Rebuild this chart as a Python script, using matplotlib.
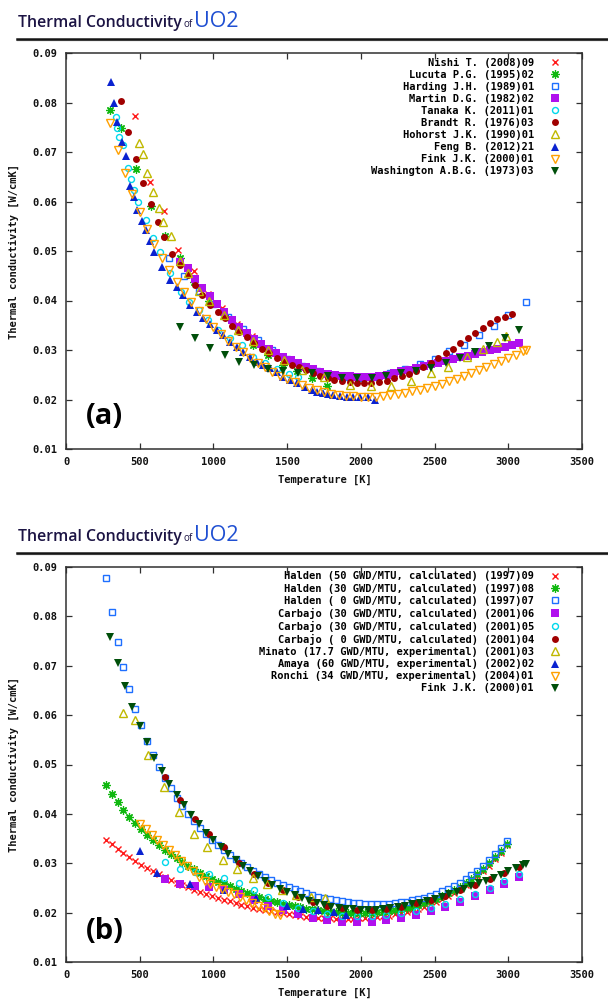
import matplotlib
matplotlib.use("Agg")
import matplotlib.pyplot as plt
from matplotlib.lines import Line2D
from matplotlib.ticker import FormatStrFormatter

# ------------------------------------------------------------------ data
X_TICKS = [0, 500, 1000, 1500, 2000, 2500, 3000, 3500]
Y_TICKS = [0.01, 0.02, 0.03, 0.04, 0.05, 0.06, 0.07, 0.08, 0.09]

# ---- panel (a)
labels_a = ["Nishi T. (2008)09", "Lucuta P.G. (1995)02", "Harding J.H. (1989)01",
            "Martin D.G. (1982)02", "Tanaka K. (2011)01", "Brandt R. (1976)03",
            "Hohorst J.K. (1990)01", "Feng B. (2012)21", "Fink J.K. (2000)01",
            "Washington A.B.G. (1973)03"]

nishi_T = [468, 570, 665, 760, 870, 960, 1060, 1160, 1260, 1360, 1460]
nishi_k = [0.0773, 0.0639, 0.0581, 0.0503, 0.0460, 0.0414, 0.0385, 0.0352, 0.0328, 0.0305, 0.0285]

lucuta_T = [300, 370, 475, 575, 670, 770, 870, 970, 1070, 1170, 1270, 1370, 1470, 1570, 1670, 1770]
lucuta_k = [0.0785, 0.0749, 0.0666, 0.0590, 0.0530, 0.0485, 0.0437, 0.0400, 0.0370, 0.0343,
            0.0310, 0.0290, 0.0270, 0.0258, 0.0243, 0.0227]

harding_T = [700, 800, 900, 1000, 1100, 1200, 1300, 1400, 1500, 1600, 1700, 1800, 1900,
             2000, 2100, 2200, 2300, 2400, 2500, 2600, 2700, 2800, 2900, 3000, 3120]
harding_k = [0.0486, 0.0450, 0.0420, 0.0392, 0.0366, 0.0343, 0.0320, 0.0300, 0.0282, 0.0268,
             0.0258, 0.0250, 0.0245, 0.0243, 0.0245, 0.0254, 0.0262, 0.0272, 0.0282, 0.0298,
             0.0310, 0.0330, 0.0349, 0.0371, 0.0397]

martin_T = [775, 825, 875, 925, 975, 1025, 1075, 1125, 1175, 1225, 1275, 1325, 1375, 1425,
            1475, 1525, 1575, 1625, 1675, 1725, 1775, 1825, 1875, 1925, 1975, 2025, 2075,
            2125, 2175, 2225, 2275, 2325, 2375, 2425, 2475, 2525, 2575, 2625, 2675, 2725,
            2775, 2825, 2875, 2925, 2975, 3025, 3075]
martin_k = [0.0478, 0.0465, 0.0444, 0.0426, 0.0410, 0.0392, 0.0376, 0.0361, 0.0347, 0.0334,
            0.0322, 0.0312, 0.0302, 0.0294, 0.0286, 0.0279, 0.0273, 0.0266, 0.0261, 0.0256,
            0.0252, 0.0250, 0.0248, 0.0247, 0.0246, 0.0246, 0.0246, 0.0248, 0.0250, 0.0253,
            0.0257, 0.0260, 0.0264, 0.0267, 0.0271, 0.0274, 0.0278, 0.0281, 0.0285, 0.0288,
            0.0292, 0.0296, 0.0299, 0.0302, 0.0306, 0.0310, 0.0314]

tanaka_T = [339, 348, 360, 387, 420, 441, 461, 488, 542, 590, 638, 705, 777, 834, 902, 965,
            1033, 1112, 1193, 1270, 1350, 1430, 1512, 1573]
tanaka_k = [0.0771, 0.0748, 0.0730, 0.0714, 0.0668, 0.0645, 0.0623, 0.0599, 0.0563, 0.0527,
            0.0498, 0.0456, 0.0418, 0.0397, 0.0381, 0.0361, 0.0340, 0.0324, 0.0310, 0.0286,
            0.0274, 0.0261, 0.0252, 0.0246]

brandt_T = [373, 422, 475, 522, 576, 624, 665, 720, 770, 827, 875, 923, 977, 1031, 1078,
            1126, 1173, 1227, 1275, 1329, 1377, 1431, 1478, 1532, 1580, 1628, 1675, 1723,
            1777, 1818, 1872, 1926, 1974, 2022, 2069, 2123, 2177, 2225, 2279, 2327, 2375,
            2422, 2475, 2524, 2578, 2625, 2673, 2727, 2775, 2829, 2876, 2924, 2978, 3026]
brandt_k = [0.0803, 0.0740, 0.0686, 0.0637, 0.0595, 0.0559, 0.0528, 0.0494, 0.0472, 0.0452,
            0.0431, 0.0411, 0.0391, 0.0377, 0.0365, 0.0349, 0.0336, 0.0326, 0.0314, 0.0302,
            0.0294, 0.0284, 0.0276, 0.0270, 0.0266, 0.0260, 0.0254, 0.0248, 0.0244, 0.0240,
            0.0238, 0.0236, 0.0234, 0.0234, 0.0234, 0.0236, 0.0238, 0.0244, 0.0248, 0.0252,
            0.0258, 0.0266, 0.0274, 0.0284, 0.0294, 0.0302, 0.0314, 0.0325, 0.0335, 0.0344,
            0.0354, 0.0363, 0.0367, 0.0372]

hohorst_T = [495, 522, 549, 590, 631, 658, 712, 770, 830, 900, 970, 1070, 1170, 1270, 1370,
             1480, 1600, 1750, 1927, 2069, 2205, 2340, 2475, 2591, 2720, 2829, 2924, 2985]
hohorst_k = [0.0718, 0.0696, 0.0658, 0.0619, 0.0587, 0.0559, 0.0530, 0.0480, 0.0455, 0.0420,
             0.0400, 0.0370, 0.0340, 0.0318, 0.0300, 0.0280, 0.0260, 0.0245, 0.0229, 0.0227,
             0.0227, 0.0237, 0.0253, 0.0266, 0.0286, 0.0302, 0.0316, 0.0328]

feng_T = [305, 326, 346, 380, 407, 434, 461, 482, 515, 542, 570, 597, 650, 705, 753, 794,
          841, 888, 929, 977, 1024, 1065, 1112, 1160, 1200, 1248, 1296, 1336, 1384, 1431,
          1472, 1520, 1567, 1620, 1669, 1705, 1743, 1777, 1811, 1860, 1905, 1950, 1994,
          2049, 2096]
feng_k = [0.0842, 0.0799, 0.0761, 0.0720, 0.0692, 0.0631, 0.0609, 0.0583, 0.0561, 0.0542,
          0.0520, 0.0498, 0.0468, 0.0441, 0.0427, 0.0411, 0.0391, 0.0377, 0.0365, 0.0353,
          0.0341, 0.0331, 0.0316, 0.0306, 0.0296, 0.0286, 0.0276, 0.0270, 0.0264, 0.0256,
          0.0245, 0.0240, 0.0233, 0.0226, 0.0219, 0.0216, 0.0213, 0.0211, 0.0209, 0.0207,
          0.0205, 0.0205, 0.0205, 0.0205, 0.0199]

fink_T = [300, 350, 400, 450, 500, 550, 600, 650, 700, 750, 800, 850, 900, 950, 1000, 1050,
          1100, 1150, 1200, 1250, 1300, 1350, 1400, 1450, 1500, 1550, 1600, 1650, 1700, 1750,
          1800, 1850, 1900, 1950, 2000, 2050, 2100, 2150, 2200, 2250, 2300, 2350, 2400, 2450,
          2500, 2550, 2600, 2650, 2700, 2750, 2800, 2850, 2900, 2950, 3000, 3050, 3100, 3120]
fink_k = [0.0759, 0.0705, 0.0658, 0.0616, 0.0578, 0.0545, 0.0514, 0.0486, 0.0461, 0.0438,
          0.0417, 0.0397, 0.0379, 0.0362, 0.0347, 0.0332, 0.0319, 0.0306, 0.0295, 0.0284,
          0.0274, 0.0265, 0.0256, 0.0248, 0.0241, 0.0235, 0.0229, 0.0224, 0.0219, 0.0216,
          0.0212, 0.0210, 0.0208, 0.0207, 0.0206, 0.0206, 0.0206, 0.0207, 0.0209, 0.0211,
          0.0214, 0.0217, 0.0220, 0.0224, 0.0228, 0.0232, 0.0237, 0.0242, 0.0248, 0.0253,
          0.0259, 0.0265, 0.0271, 0.0277, 0.0284, 0.0290, 0.0297, 0.0299]

washington_T = [773, 875, 977, 1078, 1173, 1275, 1370, 1472, 1574, 1669, 1777, 1872, 1974,
                2075, 2170, 2272, 2375, 2475, 2578, 2673, 2775, 2870, 2978, 3073]
washington_k = [0.0347, 0.0325, 0.0304, 0.0290, 0.0276, 0.0270, 0.0262, 0.0257, 0.0254,
                0.0254, 0.0248, 0.0244, 0.0244, 0.0244, 0.0248, 0.0254, 0.0258, 0.0264,
                0.0274, 0.0284, 0.0296, 0.0308, 0.0324, 0.0340]

# ---- panel (b)
labels_b = ["Halden (50 GWD/MTU, calculated) (1997)09",
            "Halden (30 GWD/MTU, calculated) (1997)08",
            "Halden ( 0 GWD/MTU, calculated) (1997)07",
            "Carbajo (30 GWD/MTU, calculated) (2001)06",
            "Carbajo (30 GWD/MTU, calculated) (2001)05",
            "Carbajo ( 0 GWD/MTU, calculated) (2001)04",
            "Minato (17.7 GWD/MTU, experimental) (2001)03",
            "Amaya (60 GWD/MTU, experimental) (2002)02",
            "Ronchi (34 GWD/MTU, experimental) (2004)01",
            "Fink J.K. (2000)01"]

halden_T = [270, 310, 350, 390, 430, 470, 510, 550, 590, 630, 670, 710, 750, 790, 830, 870,
            910, 950, 990, 1030, 1070, 1110, 1150, 1190, 1230, 1270, 1310, 1350, 1390, 1430,
            1470, 1510, 1550, 1590, 1630, 1670, 1710, 1750, 1790, 1830, 1870, 1910, 1950,
            1990, 2030, 2070, 2110, 2150, 2190, 2230, 2270, 2310, 2350, 2390, 2430, 2470,
            2510, 2550, 2590, 2630, 2670, 2710, 2750, 2790, 2830, 2870, 2910, 2950, 2990]
halden50_k = [0.0347, 0.0338, 0.0329, 0.0320, 0.0312, 0.0305, 0.0297, 0.0290, 0.0284, 0.0278,
              0.0272, 0.0266, 0.0261, 0.0256, 0.0251, 0.0246, 0.0242, 0.0238, 0.0234, 0.0230,
              0.0226, 0.0223, 0.0219, 0.0216, 0.0213, 0.0210, 0.0208, 0.0205, 0.0203, 0.0201,
              0.0199, 0.0197, 0.0195, 0.0194, 0.0192, 0.0191, 0.0190, 0.0189, 0.0189, 0.0188,
              0.0188, 0.0188, 0.0188, 0.0189, 0.0189, 0.0190, 0.0191, 0.0193, 0.0194, 0.0197,
              0.0199, 0.0202, 0.0205, 0.0208, 0.0212, 0.0217, 0.0222, 0.0227, 0.0233, 0.0240,
              0.0247, 0.0255, 0.0264, 0.0274, 0.0284, 0.0295, 0.0308, 0.0321, 0.0336]
halden30_k = [0.0458, 0.0440, 0.0424, 0.0408, 0.0394, 0.0381, 0.0369, 0.0357, 0.0347, 0.0337,
              0.0327, 0.0318, 0.0310, 0.0302, 0.0295, 0.0288, 0.0281, 0.0275, 0.0269, 0.0263,
              0.0258, 0.0253, 0.0248, 0.0243, 0.0239, 0.0235, 0.0231, 0.0228, 0.0224, 0.0221,
              0.0218, 0.0215, 0.0213, 0.0211, 0.0208, 0.0207, 0.0205, 0.0203, 0.0202, 0.0201,
              0.0200, 0.0200, 0.0199, 0.0199, 0.0200, 0.0200, 0.0201, 0.0202, 0.0203, 0.0205,
              0.0207, 0.0209, 0.0212, 0.0215, 0.0219, 0.0223, 0.0228, 0.0233, 0.0239, 0.0245,
              0.0252, 0.0260, 0.0269, 0.0278, 0.0288, 0.0300, 0.0312, 0.0325, 0.0340]
halden0_k = [0.0878, 0.0808, 0.0749, 0.0697, 0.0653, 0.0613, 0.0579, 0.0548, 0.0520, 0.0495,
             0.0472, 0.0452, 0.0433, 0.0415, 0.0400, 0.0385, 0.0371, 0.0359, 0.0347, 0.0336,
             0.0326, 0.0317, 0.0308, 0.0300, 0.0292, 0.0285, 0.0279, 0.0272, 0.0266, 0.0261,
             0.0256, 0.0251, 0.0247, 0.0243, 0.0239, 0.0235, 0.0232, 0.0229, 0.0227, 0.0225,
             0.0223, 0.0221, 0.0220, 0.0219, 0.0218, 0.0217, 0.0217, 0.0218, 0.0218, 0.0219,
             0.0221, 0.0222, 0.0225, 0.0227, 0.0230, 0.0234, 0.0238, 0.0243, 0.0248, 0.0254,
             0.0261, 0.0268, 0.0276, 0.0285, 0.0295, 0.0306, 0.0318, 0.0331, 0.0345]

carbajo_T = [673, 773, 873, 973, 1073, 1173, 1273, 1373, 1473, 1573, 1673, 1773, 1873, 1973,
             2073, 2173, 2273, 2373, 2473, 2573, 2673, 2773, 2873, 2973, 3073]
carbajo30a_k = [0.0268, 0.0258, 0.0254, 0.0251, 0.0246, 0.0238, 0.0226, 0.0214, 0.0205, 0.0197,
                0.0190, 0.0185, 0.0181, 0.0181, 0.0181, 0.0185, 0.0190, 0.0196, 0.0203, 0.0212,
                0.0222, 0.0233, 0.0245, 0.0258, 0.0272]
carbajo30b_k = [0.0303, 0.0288, 0.0283, 0.0279, 0.0271, 0.0259, 0.0245, 0.0232, 0.0219, 0.0210,
                0.0203, 0.0197, 0.0194, 0.0193, 0.0193, 0.0195, 0.0199, 0.0204, 0.0210, 0.0218,
                0.0227, 0.0237, 0.0249, 0.0265, 0.0279]
carbajo0_k = [0.0475, 0.0429, 0.0390, 0.0359, 0.0332, 0.0301, 0.0278, 0.0261, 0.0245, 0.0232,
              0.0222, 0.0214, 0.0209, 0.0206, 0.0206, 0.0208, 0.0212, 0.0219, 0.0226, 0.0234,
              0.0245, 0.0256, 0.0268, 0.0281, 0.0293]

minato_T = [387, 468, 556, 665, 767, 866, 958, 1064, 1161, 1266, 1366, 1465, 1563, 1665, 1760]
minato_k = [0.0604, 0.0590, 0.0519, 0.0455, 0.0403, 0.0359, 0.0332, 0.0306, 0.0289, 0.0271,
            0.0257, 0.0245, 0.0236, 0.0231, 0.0229]

amaya_T = [504, 617, 840, 1072, 1287, 1502, 1610, 1707, 1817, 1899]
amaya_k = [0.0325, 0.0281, 0.0257, 0.0245, 0.0230, 0.0214, 0.0208, 0.0205, 0.0201, 0.0195]

ronchi_T = [500, 540, 580, 620, 660, 700, 740, 780, 820, 860, 900, 940, 980, 1020, 1060,
            1100, 1140, 1180, 1220, 1260, 1300, 1340, 1380, 1420, 1450]
ronchi_k = [0.0380, 0.0369, 0.0358, 0.0347, 0.0337, 0.0327, 0.0316, 0.0304, 0.0294, 0.0284,
            0.0273, 0.0265, 0.0258, 0.0252, 0.0247, 0.0242, 0.0237, 0.0232, 0.0226, 0.0220,
            0.0214, 0.0209, 0.0203, 0.0198, 0.0195]

# ------------------------------------------------------------------ styles
W, H = 608, 1001
MONO = "DejaVu Sans Mono"
FS = 7.5
STYLES = [
    dict(marker="x", color="#ff1a1a", ms=5.0, mew=1.0, fill=True),
    dict(marker=(8, 2, 0), color="#10b810", ms=6.0, mew=0.9, fill=True),
    dict(marker="s", color="#1e6fff", ms=4.5, mew=1.0, fill=False),
    dict(marker="s", color="#b010ee", ms=5.2, mew=0.0, fill=True),
    dict(marker="o", color="#00d8ec", ms=4.3, mew=1.0, fill=False),
    dict(marker="o", color="#a00000", ms=5.0, mew=0.0, fill=True),
    dict(marker="^", color="#c0b800", ms=5.5, mew=1.0, fill=False),
    dict(marker="^", color="#0a22d0", ms=6.0, mew=0.0, fill=True),
    dict(marker="v", color="#ffa000", ms=5.5, mew=1.0, fill=False),
    dict(marker="v", color="#004f0a", ms=6.0, mew=0.0, fill=True),
]


def plot_series(ax, T, k, st, label):
    kw = dict(linestyle="none", marker=st["marker"], ms=st["ms"], label=label,
              markeredgecolor=st["color"])
    if st["fill"]:
        kw["markerfacecolor"] = st["color"]
        kw["markeredgewidth"] = st["mew"]
    else:
        kw["markerfacecolor"] = "none"
        kw["markeredgewidth"] = st["mew"]
    return ax.plot(T, k, **kw)[0]


def style_axes(ax):
    ax.set_xlim(0, 3500)
    ax.set_ylim(0.01, 0.09)
    ax.set_xticks(X_TICKS)
    ax.set_yticks(Y_TICKS)
    ax.yaxis.set_major_formatter(FormatStrFormatter("%.2f"))
    ax.tick_params(direction="in", length=4, width=0.9, top=True, right=True,
                   color="#303030", labelsize=FS, labelcolor="#111111")
    ax.tick_params(axis="y", pad=6)
    ax.tick_params(axis="x", pad=6)
    for lab in ax.get_xticklabels() + ax.get_yticklabels():
        lab.set_fontfamily(MONO)
        lab.set_fontweight("bold")
    for s in ax.spines.values():
        s.set_color("#303030")
        s.set_linewidth(1.1)


fig = plt.figure(figsize=(W / 100, H / 100), dpi=100)
fig.patch.set_facecolor("white")

ax_a = fig.add_axes([66 / W, 1 - 449 / H, 516 / W, 396 / H])
ax_b = fig.add_axes([66 / W, 1 - 962 / H, 516 / W, 395 / H])

series_a = [(nishi_T, nishi_k), (lucuta_T, lucuta_k), (harding_T, harding_k),
            (martin_T, martin_k), (tanaka_T, tanaka_k), (brandt_T, brandt_k),
            (hohorst_T, hohorst_k), (feng_T, feng_k), (fink_T, fink_k),
            (washington_T, washington_k)]
series_b = [(halden_T, halden50_k), (halden_T, halden30_k), (halden_T, halden0_k),
            (carbajo_T, carbajo30a_k), (carbajo_T, carbajo30b_k), (carbajo_T, carbajo0_k),
            (minato_T, minato_k), (amaya_T, amaya_k), (ronchi_T, ronchi_k),
            (fink_T, fink_k)]

for ax, series, labels in ((ax_a, series_a, labels_a), (ax_b, series_b, labels_b)):
    handles = []
    for (T, k), st, lab in zip(series, STYLES, labels):
        handles.append(plot_series(ax, T, k, st, lab))
    style_axes(ax)
    ax.legend(handles=handles, loc="upper right",
              bbox_to_anchor=((560 - 66) / 516, 1 - 4.5 / 396),
              bbox_transform=ax.transAxes, frameon=False, markerfirst=False,
              handlelength=1.0, handletextpad=1.5, borderpad=0, borderaxespad=0,
              labelspacing=0.2,
              prop=dict(family=MONO, weight="bold", size=FS))

# axis labels
for top, bot in ((53, 449), (567, 962)):
    fig.text(14 / W, 1 - (top + bot) / 2 / H, "Thermal conductivity [W/cmK]", rotation=90,
             ha="center", va="center", family=MONO, weight="bold", size=FS, color="#111111")
    fig.text(325 / W, 1 - (bot + 31) / H, "Temperature [K]", ha="center", va="center",
             family=MONO, weight="bold", size=FS, color="#111111")

# panel letters
ax_a.text(0.074, 0.081, "(a)", transform=ax_a.transAxes, ha="center", va="center",
          family="Open Sans", weight="bold", size=21, color="black")
ax_b.text(0.075, 0.078, "(b)", transform=ax_b.transAxes, ha="center", va="center",
          family="Open Sans", weight="bold", size=21, color="black")

# titles with rule lines
renderer = fig.canvas.get_renderer()
for base, rule in ((27, 38.5), (541, 552.5)):
    t1 = fig.text(18 / W, 1 - base / H, "Thermal Conductivity", family="Open Sans",
                  weight="semibold", size=13, color="#1c1444", va="baseline", ha="left")
    w = t1.get_window_extent(renderer).width
    t1.set_fontsize(13 * 164 / w)
    bb = t1.get_window_extent(renderer)
    t2 = fig.text((bb.x1 + 2) / W, 1 - base / H, "of", family="Open Sans", size=7,
                  color="#1c1444", va="baseline", ha="left")
    bb2 = t2.get_window_extent(renderer)
    fig.text((bb2.x1 + 1.5) / W, 1 - base / H, "UO2", family="Open Sans", size=15.5,
             color="#1f4fd2", va="baseline", ha="left")
    fig.add_artist(Line2D([17 / W, 1.0], [1 - (rule + 1.2) / H] * 2, transform=fig.transFigure,
                          color="#b0b0b0", lw=1.0))
    fig.add_artist(Line2D([17 / W, 1.0], [1 - rule / H] * 2, transform=fig.transFigure,
                          color="#151515", lw=1.8))

fig.savefig("out.png", dpi=100, facecolor="white")
